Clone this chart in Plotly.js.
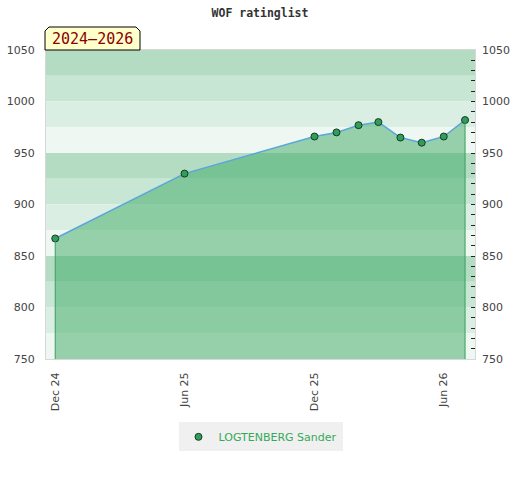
<!DOCTYPE html>
<html>
<head>
<meta charset="utf-8">
<script src="https://cdn.plot.ly/plotly-3.0.1.min.js"></script>
<style>html,body{margin:0;padding:0;background:#fff;}#chart{width:520px;height:480px;}</style>
</head>
<body>
<div id="chart"></div>
<script>
// ---- data ----
var dates = ["2024-12-01","2025-06-01","2025-12-01","2026-01-01","2026-02-01","2026-03-01","2026-04-01","2026-05-01","2026-06-01","2026-07-01"];
var ratings = [867, 930, 966, 970, 977, 980, 965, 960, 966, 982];
var playerName = "LOGTENBERG Sander";
var chartTitle = "WOF ratinglist";
var periodLabel = "2024\u20132026";
var yTickVals = [750, 800, 850, 900, 950, 1000, 1050];

// ---- style ----
var xRange = ["2024-11-18", "2026-07-15"];
var yMin = 750, yMax = 1050;
var bandStep = 25;
var bandColors = ["#b3dcc2", "#c8e6d4", "#dbeee3", "#eef7f1"]; // from top of each 100 block
var shapes = [];
var bandIdx = 0;
for (var bandTop = yMax; bandTop > yMin; bandTop -= bandStep) {
  shapes.push({type:"rect", xref:"x", yref:"y", x0:xRange[0], x1:xRange[1], y0:bandTop - bandStep, y1:bandTop,
    fillcolor: bandColors[bandIdx % 4], line:{width:0}, layer:"below"});
  bandIdx++;
}
// vertical edges of the filled area
var edgeColor = "#3a9e5e";
[0, dates.length - 1].forEach(function (k) {
  shapes.push({type:"line", xref:"x", yref:"y", x0:dates[k], x1:dates[k], y0:yMin, y1:ratings[k],
    line:{color:edgeColor, width:1}, layer:"above"});
});
// period label box (chamfered top corners)
var bx0 = -0.0023, bx1 = 0.2191, by0 = 1.0, by1 = 1.0744, cdx = 0.0093, cdy = 0.0129;
shapes.push({type:"path", xref:"paper", yref:"paper",
  path: "M " + bx0 + " " + by0 + " L " + bx0 + " " + (by1 - cdy) + " L " + (bx0 + cdx) + " " + by1 +
        " L " + (bx1 - cdx) + " " + by1 + " L " + bx1 + " " + (by1 - cdy) + " L " + bx1 + " " + by0 + " Z",
  fillcolor:"#ffffcc", line:{color:"#000", width:1}, layer:"above"});

var markerStyle = {color:"#2f9e5b", size:7, line:{color:"#1a3a22", width:1}};

var traces = [
  {x:dates, y:ratings, type:"scatter", mode:"lines", fill:"tozeroy",
   fillcolor:"rgba(60,170,100,0.5)", line:{color:"#5ba6dc", width:1.5},
   showlegend:false, hoverinfo:"skip"},
  {x:dates, y:ratings, type:"scatter", mode:"markers", name:playerName,
   marker:markerStyle, showlegend:true},
  {x:dates, y:ratings, type:"scatter", mode:"markers", yaxis:"y2",
   marker:{opacity:0}, showlegend:false, hoverinfo:"skip"}
];

var tickFont = {family:"DejaVu Sans, sans-serif", size:11, color:"#444"};

var layout = {
  width:520, height:480,
  margin:{l:46, r:45, t:50, b:121},
  paper_bgcolor:"#fff", plot_bgcolor:"#fff",
  title:{text:chartTitle, x:0.5, xanchor:"center", y:0.973, yanchor:"middle",
    font:{family:"DejaVu Sans Mono, monospace", size:11.5, color:"#333", weight:"bold"}},
  xaxis:{type:"date", range:xRange,
    tick0:"2024-12-01", dtick:"M6", tickformat:"%b %y", tickangle:-90,
    tickfont:tickFont, showgrid:false, zeroline:false, ticks:"", ticklabelstandoff:8,
    showline:true, linecolor:"#d8d8d8", linewidth:1, mirror:true},
  yaxis:{range:[yMin, yMax], tickvals:yTickVals, tickfont:tickFont,
    showgrid:false, zeroline:false, ticks:"", ticklabelstandoff:8,
    showline:true, linecolor:"#d8d8d8", linewidth:1, mirror:true, fixedrange:true},
  yaxis2:{range:[yMin, yMax], overlaying:"y", side:"right", tickvals:yTickVals,
    tickfont:tickFont, showgrid:false, zeroline:false, ticklabelstandoff:6,
    ticks:"inside", ticklen:4, tickcolor:"#222", tickwidth:1,
    minor:{dtick:10, tick0:750, ticks:"inside", ticklen:4, tickcolor:"#222", tickwidth:1, showgrid:false},
    showline:false},
  shapes:shapes,
  annotations:[{xref:"paper", yref:"paper", x:0.108, y:1.034, xanchor:"center", yanchor:"middle",
    text:periodLabel, showarrow:false,
    font:{family:"DejaVu Sans Mono, monospace", size:15, color:"#8b0000"}}],
  legend:{orientation:"h", x:0.5, xanchor:"center", y:-0.205, yanchor:"top",
    bgcolor:"#f0f0f0", font:{family:"DejaVu Sans, sans-serif", size:11, color:"#34a95a"}},
  showlegend:true
};

Plotly.newPlot("chart", traces, layout, {displayModeBar:false, staticPlot:true});
</script>
</body>
</html>
